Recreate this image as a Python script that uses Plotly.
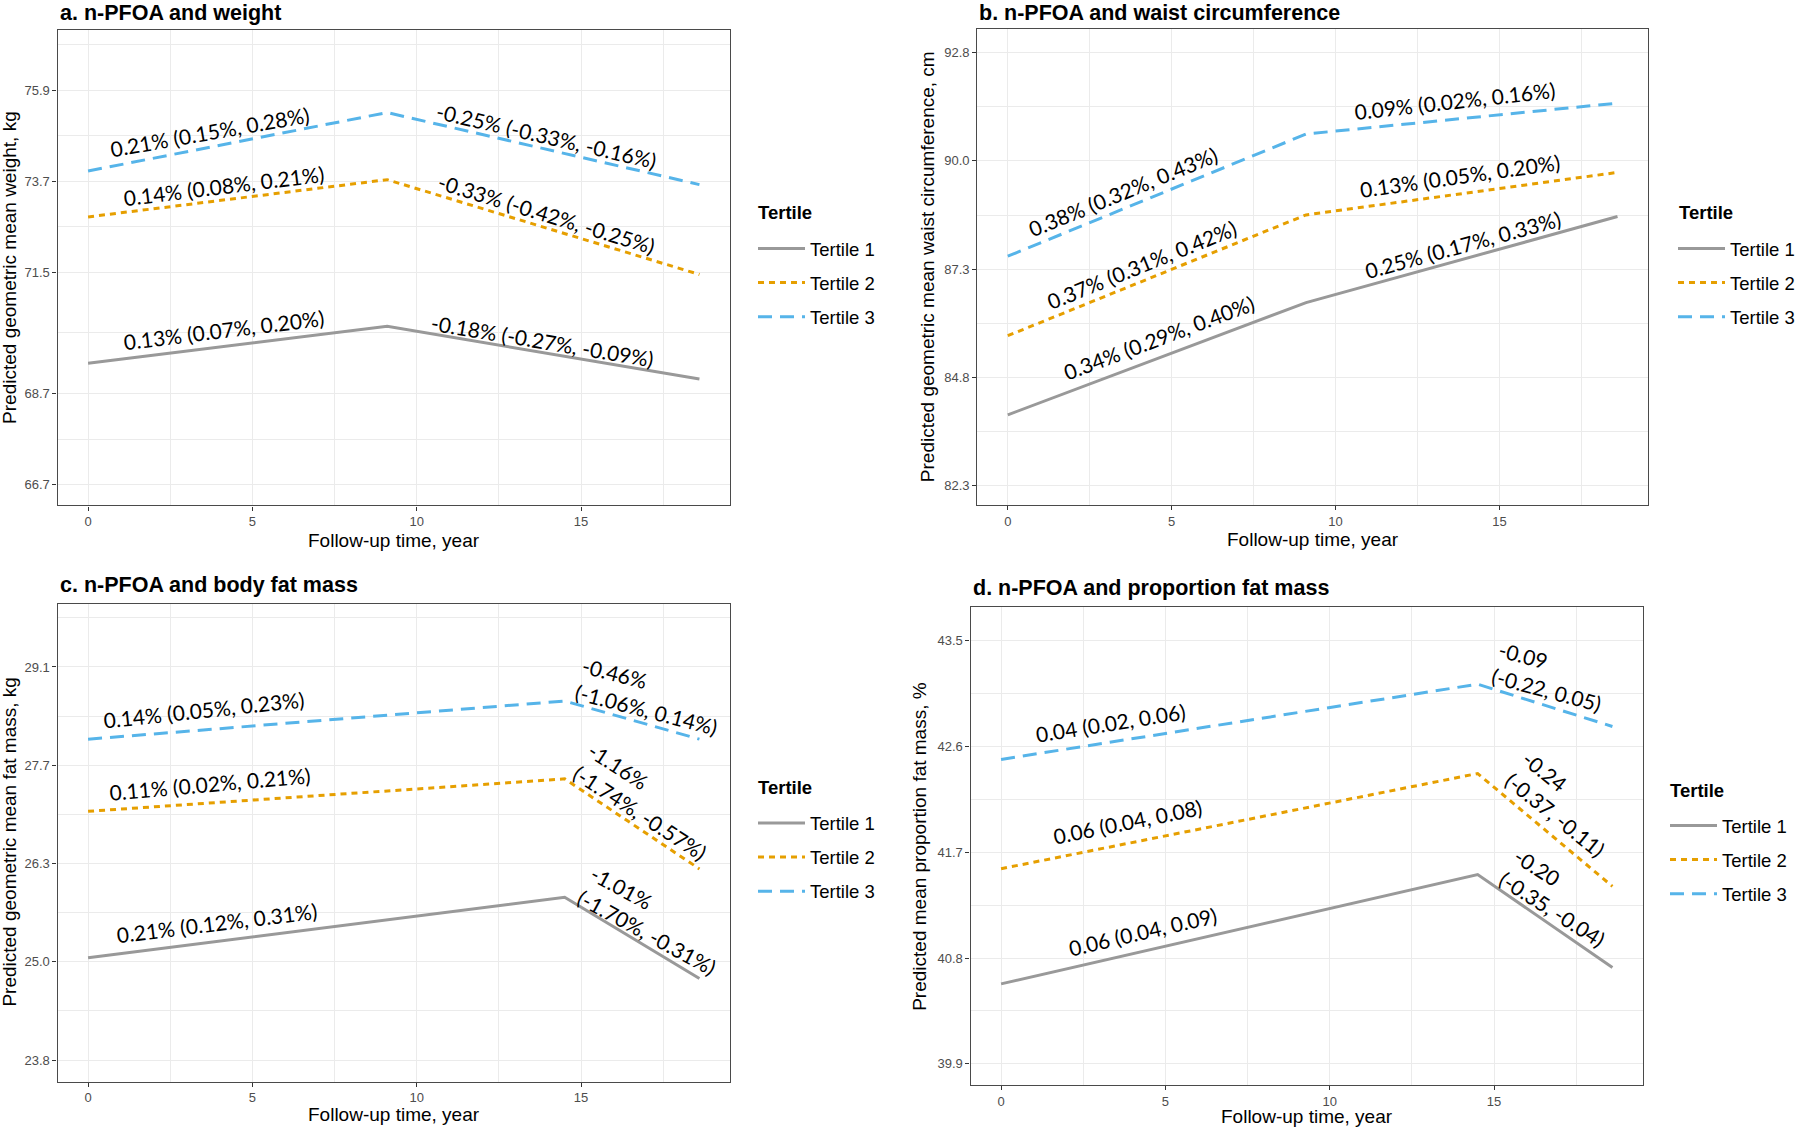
import math
import plotly.graph_objects as go

# ---------------- data ----------------
tertile_names = ["Tertile 1", "Tertile 2", "Tertile 3"]
time_ab = [0, 9.1, 18.6]
time_cd = [0, 14.5, 18.6]

weight_t1 = [69.41, 70.26, 69.05]
weight_t2 = [72.84, 73.74, 71.47]
weight_t3 = [73.95, 75.39, 73.62]

waist_t1 = [83.90, 86.55, 88.64]
waist_t2 = [85.76, 88.68, 89.73]
waist_t3 = [87.67, 90.69, 91.47]

fat_t1 = [25.08, 25.865, 24.816]
fat_t2 = [27.02, 27.47, 26.24]
fat_t3 = [28.03, 28.58, 28.03]

prop_t1 = [40.58, 41.51, 40.72]
prop_t2 = [41.56, 42.37, 41.41]
prop_t3 = [42.49, 43.13, 42.77]

x_ticks = [0, 5, 10, 15]
x_minor = [2.5, 7.5, 12.5, 17.5]

weight_break_ln = [4.20, 4.23, 4.27, 4.30, 4.33]
weight_tick_labels = ["66.7", "68.7", "71.5", "73.7", "75.9"]
waist_break_ln = [4.41, 4.44, 4.47, 4.50, 4.53]
waist_tick_labels = ["82.3", "84.8", "87.3", "90.0", "92.8"]
fat_break_ln = [3.17, 3.22, 3.27, 3.32, 3.37]
fat_tick_labels = ["23.8", "25.0", "26.3", "27.7", "29.1"]
prop_breaks = [39.9, 40.8, 41.7, 42.6, 43.5]
prop_tick_labels = ["39.9", "40.8", "41.7", "42.6", "43.5"]

weight_labels = ["0.13% (0.07%, 0.20%)", "-0.18% (-0.27%, -0.09%)",
                 "0.14% (0.08%, 0.21%)", "-0.33% (-0.42%, -0.25%)",
                 "0.21% (0.15%, 0.28%)", "-0.25% (-0.33%, -0.16%)"]
waist_labels = ["0.34% (0.29%, 0.40%)", "0.25% (0.17%, 0.33%)",
                "0.37% (0.31%, 0.42%)", "0.13% (0.05%, 0.20%)",
                "0.38% (0.32%, 0.43%)", "0.09% (0.02%, 0.16%)"]
fat_labels = ["0.21% (0.12%, 0.31%)", "-1.01%<br>(-1.70%, -0.31%)",
              "0.11% (0.02%, 0.21%)", "-1.16%<br>(-1.74%, -0.57%)",
              "0.14% (0.05%, 0.23%)", "-0.46%<br>(-1.06%, 0.14%)"]
prop_labels = ["0.06 (0.04, 0.09)", "-0.20<br>(-0.35, -0.04)",
               "0.06 (0.04, 0.08)", "-0.24<br>(-0.37, -0.11)",
               "0.04 (0.02, 0.06)", "-0.09<br>(-0.22, 0.05)"]

# ---------------- layout / style ----------------
W, H = 1800, 1128
COLORS = ["#999999", "#E69F00", "#56B4E9"]
DASHES = ["solid", "6px,5px", "14px,8px"]
SANS = "Liberation Sans, Arial, sans-serif"
ANN_FONT = "Lato, Carlito, Calibri, sans-serif"
GRID = "#EBEBEB"
BORDER = "#4a4a4a"

# label positions (x in years, y in data units) and angles (deg, ccw positive)
weight_lab_pos = [(4.14, 70.19, 7), (13.82, 69.94, -9.5),
                  (4.14, 73.60, 7), (13.94, 72.91, -17),
                  (3.72, 74.91, 10), (13.94, 74.82, -13)]
waist_lab_pos = [(4.60, 85.72, 20.6), (13.88, 87.95, 15.3),
                 (4.08, 87.46, 22), (13.80, 89.66, 8),
                 (3.51, 89.26, 22.3), (13.64, 91.53, 6.3)]
fat_lab_pos = [(3.93, 25.54, 7), (17.21, 25.573, -28.5),
               (3.71, 27.41, 5), (17.03, 27.165, -33),
               (3.52, 28.46, 6), (17.11, 28.65, -14.5)]
prop_lab_pos = [(4.29, 41.03, 13), (16.99, 41.32, -32.6),
                (3.84, 41.96, 11.4), (17.14, 42.11, -38.7),
                (3.34, 42.80, 9), (16.70, 43.196, -15)]

panels = [
    dict(key="a", title="a. n-PFOA and weight", ylab="Predicted geometric mean weight, kg",
         t=time_ab, series=[weight_t1, weight_t2, weight_t3], log=True,
         breaks=[math.exp(v) for v in weight_break_ln], tlabels=weight_tick_labels,
         yr=(66.23, 77.46), dom_px=(57.5, 730, 30.4, 505.4),
         labels=weight_labels, lpos=weight_lab_pos,
         title_xy=(58, 13), ylab_x=10, xlab_y=540,
         leg_title_xy=(756, 213), leg_xy=(753, 230)),
    dict(key="b", title="b. n-PFOA and waist circumference",
         ylab="Predicted geometric mean waist circumference, cm",
         t=time_ab, series=[waist_t1, waist_t2, waist_t3], log=True,
         breaks=[math.exp(v) for v in waist_break_ln], tlabels=waist_tick_labels,
         yr=(81.83, 93.36), dom_px=(977.3, 1648, 29.3, 505),
         labels=waist_labels, lpos=waist_lab_pos,
         title_xy=(977, 13), ylab_x=927, xlab_y=539,
         leg_title_xy=(1677, 213), leg_xy=(1673, 230)),
    dict(key="c", title="c. n-PFOA and body fat mass", ylab="Predicted geometric mean fat mass, kg",
         t=time_cd, series=[fat_t1, fat_t2, fat_t3], log=True,
         breaks=[math.exp(v) for v in fat_break_ln], tlabels=fat_tick_labels,
         yr=(23.55, 30.03), dom_px=(57.5, 730, 603.7, 1081.5),
         labels=fat_labels, lpos=fat_lab_pos,
         title_xy=(58, 585), ylab_x=10, xlab_y=1114,
         leg_title_xy=(756, 787.5), leg_xy=(753, 804.5)),
    dict(key="d", title="d. n-PFOA and proportion fat mass", ylab="Predicted mean proportion fat mass, %",
         t=time_cd, series=[prop_t1, prop_t2, prop_t3], log=False,
         breaks=prop_breaks, tlabels=prop_tick_labels,
         yr=(39.72, 43.79), dom_px=(970.5, 1643, 606.6, 1085),
         labels=prop_labels, lpos=prop_lab_pos,
         title_xy=(971, 588), ylab_x=920, xlab_y=1116,
         leg_title_xy=(1668, 790), leg_xy=(1665, 807)),
]

fig = go.Figure()
layout = dict(width=W, height=H, margin=dict(l=0, r=0, t=0, b=0, autoexpand=False),
              paper_bgcolor="white", plot_bgcolor="white", showlegend=True,
              font=dict(family=SANS, color="black"))
annotations = []

for i, p in enumerate(panels):
    n = "" if i == 0 else str(i + 1)
    xa, ya = "x" + n, "y" + n
    leg = "legend" + n
    x0, x1, y0, y1 = p["dom_px"]
    for k in range(3):
        fig.add_trace(go.Scatter(
            x=p["t"], y=p["series"][k], mode="lines", name=tertile_names[k],
            line=dict(color=COLORS[k], width=3, dash=DASHES[k]),
            xaxis=xa, yaxis=ya, legend=leg, legendgroup=p["key"] + str(k),
            hoverinfo="skip"))
    tmin, tmax = min(p["t"]), max(p["t"])
    pad = 0.05 * (tmax - tmin)
    layout["xaxis" + n] = dict(
        domain=[x0 / W, x1 / W], anchor=ya, range=[tmin - pad, tmax + pad],
        tickmode="array", tickvals=x_ticks, ticktext=[str(v) for v in x_ticks],
        ticks="outside", ticklen=4, tickwidth=1, tickcolor="#333333",
        tickfont=dict(family=SANS, size=13, color="#4D4D4D"),
        showgrid=True, gridcolor=GRID, gridwidth=1.3, zeroline=False,
        showline=True, mirror=True, linecolor=BORDER, linewidth=1.3,
        minor=dict(tickmode="array", tickvals=x_minor, showgrid=True,
                   gridcolor=GRID, gridwidth=0.7, ticks=""))
    if p["log"]:
        lb = [math.log(b) for b in p["breaks"]]
        cand = [lb[0] - (lb[1] - lb[0]) / 2] + [(lb[j] + lb[j + 1]) / 2 for j in range(len(lb) - 1)] \
            + [lb[-1] + (lb[-1] - lb[-2]) / 2]
        lo, hi = math.log(p["yr"][0]), math.log(p["yr"][1])
        minor_vals = [math.exp(v) for v in cand if lo < v < hi]
        yrange = [math.log10(p["yr"][0]), math.log10(p["yr"][1])]
        ytype = "log"
    else:
        b = p["breaks"]
        cand = [b[0] - (b[1] - b[0]) / 2] + [(b[j] + b[j + 1]) / 2 for j in range(len(b) - 1)] \
            + [b[-1] + (b[-1] - b[-2]) / 2]
        minor_vals = [v for v in cand if p["yr"][0] < v < p["yr"][1]]
        yrange = list(p["yr"])
        ytype = "linear"
    layout["yaxis" + n] = dict(
        domain=[1 - y1 / H, 1 - y0 / H], anchor=xa, type=ytype, range=yrange,
        tickmode="array", tickvals=p["breaks"], ticktext=p["tlabels"],
        ticks="outside", ticklen=4, tickwidth=1, tickcolor="#333333",
        tickfont=dict(family=SANS, size=13, color="#4D4D4D"),
        showgrid=True, gridcolor=GRID, gridwidth=1.3, zeroline=False,
        showline=True, mirror=True, linecolor=BORDER, linewidth=1.3,
        minor=dict(tickmode="array", tickvals=minor_vals, showgrid=True,
                   gridcolor=GRID, gridwidth=0.7, ticks=""))
    lx, ly = p["leg_xy"]
    layout[leg] = dict(
        x=lx / W, y=1 - ly / H, xanchor="left", yanchor="top",
        bgcolor="rgba(0,0,0,0)", borderwidth=0,
        font=dict(family=SANS, size=18.5, color="black"),
        tracegroupgap=7, itemwidth=47, traceorder="grouped")
    # legend title
    ltx, lty = p["leg_title_xy"]
    annotations.append(dict(text="<b>Tertile</b>", xref="paper", yref="paper",
                            x=ltx / W, y=1 - lty / H, xanchor="left", yanchor="middle",
                            showarrow=False, font=dict(family=SANS, size=18.5, color="black")))
    # panel title
    tx, ty = p["title_xy"]
    annotations.append(dict(text="<b>" + p["title"] + "</b>", xref="paper", yref="paper",
                            x=tx / W, y=1 - ty / H, xanchor="left", yanchor="middle",
                            showarrow=False, font=dict(family=SANS, size=21.5, color="black")))
    # axis titles
    annotations.append(dict(text=p["ylab"], xref="paper", yref="paper",
                            x=p["ylab_x"] / W, y=1 - (y0 + y1) / 2 / H, textangle=-90,
                            xanchor="center", yanchor="middle", showarrow=False,
                            font=dict(family=SANS, size=19, color="black")))
    annotations.append(dict(text="Follow-up time, year", xref="paper", yref="paper",
                            x=(x0 + x1) / 2 / W, y=1 - p["xlab_y"] / H,
                            xanchor="center", yanchor="middle", showarrow=False,
                            font=dict(family=SANS, size=19, color="black")))
    # slope labels
    for txt, (lxv, lyv, ang) in zip(p["labels"], p["lpos"]):
        annotations.append(dict(text=txt, xref=xa, yref=ya, x=lxv,
                                y=math.log10(lyv) if p["log"] else lyv,
                                textangle=-ang, xanchor="center", yanchor="middle",
                                align="left", showarrow=False,
                                font=dict(family=ANN_FONT, size=21, color="black")))

layout["annotations"] = annotations
fig.update_layout(**layout)

fig.write_html("out.html", config={"displayModeBar": False},
               post_script="document.body.style.margin='0';")
